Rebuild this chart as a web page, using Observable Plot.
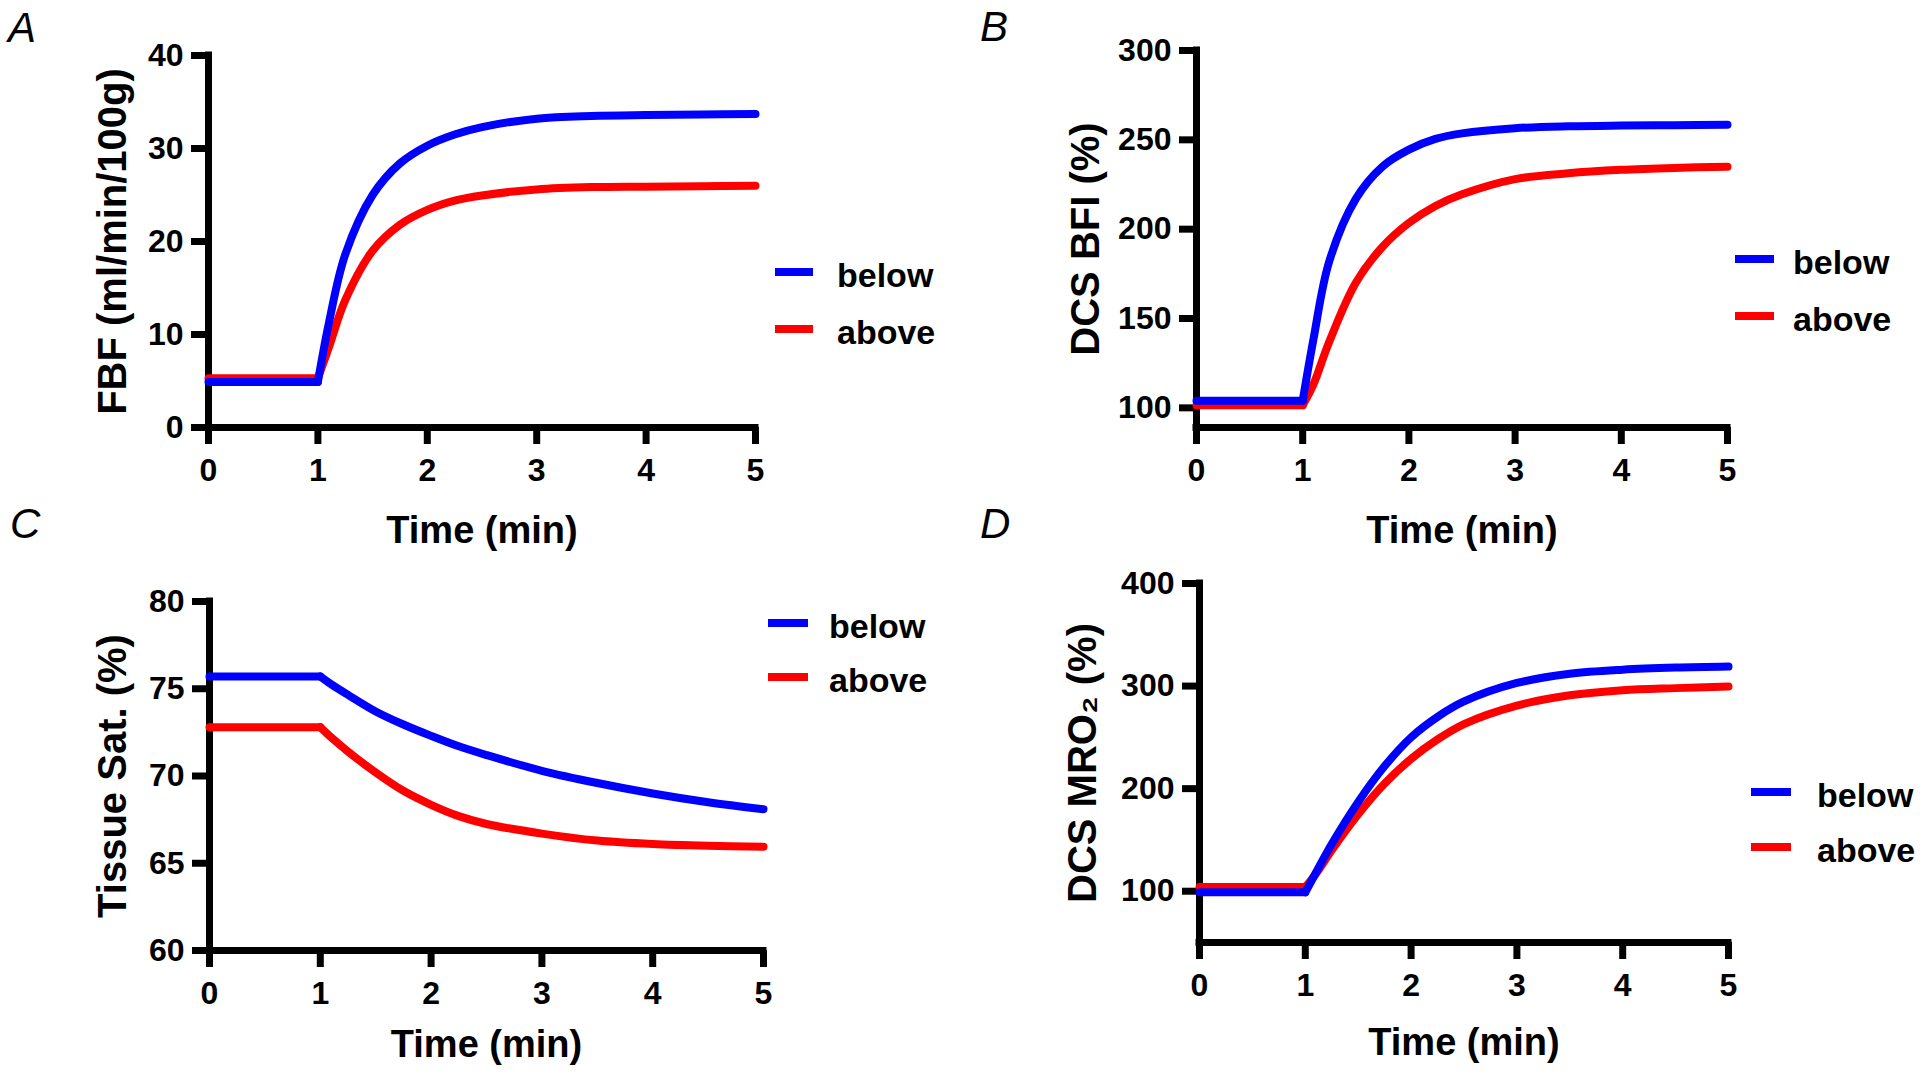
<!DOCTYPE html>
<html>
<head>
<meta charset="utf-8">
<script src="https://cdn.jsdelivr.net/npm/d3@7"></script>
<script src="https://cdn.jsdelivr.net/npm/@observablehq/plot@0.6"></script>
<style>
  html, body { margin: 0; padding: 0; background: #fff; }
  #root { position: relative; width: 1920px; height: 1073px; overflow: hidden;
          font-family: "Liberation Sans", Arial, sans-serif; color: #000; }
  .panel { position: absolute; }
  .letter { position: absolute; font-style: italic; font-weight: normal; font-size: 42px; line-height: 42px; }
  .sw { position: absolute; height: 8px; }
  .lt { position: absolute; font-weight: bold; font-size: 34px; line-height: 34px; white-space: nowrap; }
</style>
</head>
<body>
<div id="root"></div>
<script>
// ---- data ----
const times = [0, 1, 1.1, 1.25, 1.5, 1.75, 2, 2.25, 2.5, 3, 3.5, 4, 4.5, 5];
const seriesNames = ["below", "above"];
const seriesColors = ["#0000ff", "#ff0000"];
const xTicks = [0, 1, 2, 3, 4, 5];
const xLabel = "Time (min)";

// A: FBF
const fbfBelow = [4.9, 4.9, 11.2, 18.6, 25.0, 28.4, 30.3, 31.5, 32.3, 33.2, 33.5, 33.6, 33.65, 33.7];
const fbfAbove = [5.3, 5.3, 8.6, 13.7, 19.0, 21.8, 23.4, 24.4, 24.95, 25.6, 25.85, 25.9, 25.95, 26.0];
const fbfTicks = [0, 10, 20, 30, 40];
// B: DCS BFI
const bfiBelow = [104, 104, 138, 182, 217, 235, 244.5, 250.5, 253.6, 256.5, 257.6, 258, 258.2, 258.4];
const bfiAbove = [101.5, 101.5, 113, 137, 170, 190, 203.5, 213, 219.5, 228, 231.3, 233.2, 234.3, 235];
const bfiTicks = [100, 150, 200, 250, 300];
// C: Tissue Sat.
const satBelow = [75.7, 75.7, 75.25, 74.65, 73.7, 72.95, 72.3, 71.7, 71.2, 70.3, 69.6, 69.0, 68.5, 68.1];
const satAbove = [72.8, 72.8, 72.2, 71.4, 70.2, 69.15, 68.35, 67.7, 67.25, 66.7, 66.3, 66.1, 66.0, 65.95];
const satTicks = [60, 65, 70, 75, 80];
// D: DCS MRO2
const mroBelow = [99, 99, 118, 146, 187, 222, 250, 270, 285, 303, 312, 316, 318, 319];
const mroAbove = [104, 104, 117, 140, 175, 205, 229, 248, 263, 281, 291, 296, 298, 299.5];
const mroTicks = [100, 200, 300, 400];

const panels = [
  { letter: "A", left: 0, top: 0, width: 960, height: 540, margin: [55, 205, 113, 208],
    yDomain: [0, 40], yTicks: fbfTicks, values: [fbfBelow, fbfAbove], yLabel: "FBF (ml/min/100g)",
    xTitleDy: 103, yTitleDx: -95, leg: { x: 775, w: 38, tx: 837, y: [272, 329] }, lx: 8, lb: 43 },
  { letter: "B", left: 960, top: 0, width: 960, height: 540, margin: [50, 193, 113, 236],
    yDomain: [89, 300], yTicks: bfiTicks, values: [bfiBelow, bfiAbove], yLabel: "DCS BFI (%)",
    xTitleDy: 103, yTitleDx: -110, leg: { x: 1735, w: 39, tx: 1793, y: [259, 316] }, lx: 980, lb: 42 },
  { letter: "C", left: 0, top: 540, width: 960, height: 533, margin: [61, 197, 123, 209],
    yDomain: [60, 80], yTicks: satTicks, values: [satBelow, satAbove], yLabel: "Tissue Sat. (%)",
    xTitleDy: 94, yTitleDx: -96, leg: { x: 768, w: 40, tx: 829, y: [623, 677] }, lx: 10, lb: 539 },
  { letter: "D", left: 960, top: 540, width: 960, height: 533, margin: [43, 192, 131, 239],
    yDomain: [50, 400], yTicks: mroTicks, values: [mroBelow, mroAbove], yLabel: "DCS MRO\u2082 (%)",
    xTitleDy: 100, yTitleDx: -116, leg: { x: 1751, w: 40, tx: 1817, y: [792, 847] }, lx: 980, lb: 539 }
];

const root = document.getElementById("root");
const fmt = d3.format("d");

for (const p of panels) {
  // flat segment (t<=1) and response segment (t>=1) drawn as separate paths for a sharp onset
  const rows = [];
  // "above" (red) first, then "below" (blue) on top
  for (const si of [1, 0]) {
    times.forEach((t, i) => {
      const v = p.values[si][i];
      if (t <= 1) rows.push({ t, v, c: seriesColors[si], z: seriesNames[si] + "-pre" });
      if (t >= 1) rows.push({ t, v, c: seriesColors[si], z: seriesNames[si] + "-post" });
    });
  }
  const [mt, mr, mb, ml] = p.margin;
  const chart = Plot.plot({
    width: p.width, height: p.height,
    marginTop: mt, marginRight: mr, marginBottom: mb, marginLeft: ml,
    x: { domain: [0, 5] },
    y: { domain: p.yDomain },
    style: { fontFamily: "Liberation Sans, Arial, sans-serif", fontWeight: "bold", background: "transparent", overflow: "visible", color: "#000" },
    marks: [
      Plot.ruleX([0], { strokeWidth: 7, strokeLinecap: "square" }),
      Plot.ruleY([p.yDomain[0]], { strokeWidth: 7, strokeLinecap: "square" }),
      Plot.axisX({ ticks: xTicks, tickFormat: fmt, tickSize: 17, tickPadding: 14, strokeWidth: 7, fontSize: 32, label: null }),
      Plot.axisY({ ticks: p.yTicks, tickFormat: fmt, tickSize: 17, tickPadding: 8, strokeWidth: 7, fontSize: 32, label: null }),
      Plot.line(rows, { x: "t", y: "v", z: "z", stroke: "c", strokeWidth: 8, curve: "catmull-rom" }),
      Plot.text([xLabel], { frameAnchor: "bottom", dy: p.xTitleDy, textAnchor: "middle", lineAnchor: "middle", fontSize: 38, fontWeight: "bold" }),
      Plot.text([p.yLabel], { frameAnchor: "left", dx: p.yTitleDx, rotate: -90, textAnchor: "middle", lineAnchor: "middle", fontSize: 40, fontWeight: "bold" })
    ]
  });
  chart.classList.add("panel");
  chart.style.left = p.left + "px";
  chart.style.top = p.top + "px";
  root.appendChild(chart);

  // panel letter
  const L = document.createElement("div");
  L.className = "letter";
  L.textContent = p.letter;
  L.style.left = p.lx + "px";
  L.style.top = (p.lb - 35.6) + "px";
  root.appendChild(L);

  // legend
  seriesNames.forEach((name, si) => {
    const sw = document.createElement("div");
    sw.className = "sw";
    sw.style.left = p.leg.x + "px";
    sw.style.width = p.leg.w + "px";
    sw.style.top = (p.leg.y[si] - 4) + "px";
    sw.style.background = seriesColors[si];
    root.appendChild(sw);
    const tx = document.createElement("div");
    tx.className = "lt";
    tx.textContent = name;
    tx.style.left = p.leg.tx + "px";
    tx.style.top = (p.leg.y[si] + 15 - 28.8) + "px";
    root.appendChild(tx);
  });
}
</script>
</body>
</html>
